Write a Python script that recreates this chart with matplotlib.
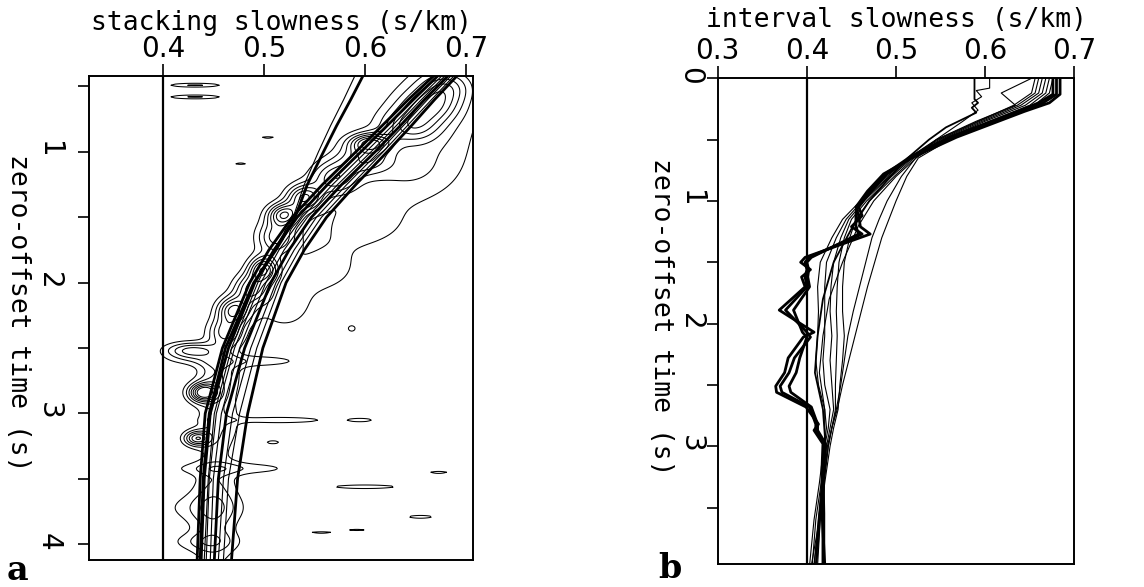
import numpy as np
import matplotlib
matplotlib.use("Agg")
import matplotlib.pyplot as plt

# ---- panel a: stacking slowness picks (s/km) vs zero-offset time (s) ----
t_stack = [0.42, 0.6, 0.8, 1.0, 1.25, 1.5, 1.75, 2.0, 2.5, 3.0, 3.5, 4.12]
stack_curves = {
    "c1": [0.668, 0.643, 0.617, 0.591, 0.558, 0.528, 0.505, 0.486, 0.459, 0.442, 0.437, 0.434],
    "c2": [0.672, 0.648, 0.622, 0.596, 0.563, 0.533, 0.510, 0.491, 0.465, 0.447, 0.441, 0.438],
    "c3": [0.676, 0.652, 0.627, 0.601, 0.568, 0.538, 0.515, 0.497, 0.471, 0.453, 0.446, 0.443],
    "c4": [0.679, 0.656, 0.631, 0.606, 0.573, 0.543, 0.520, 0.502, 0.476, 0.458, 0.450, 0.447],
    "c5": [0.682, 0.659, 0.635, 0.610, 0.577, 0.547, 0.525, 0.507, 0.481, 0.463, 0.455, 0.451],
    "c6": [0.685, 0.662, 0.638, 0.614, 0.582, 0.552, 0.530, 0.512, 0.487, 0.469, 0.460, 0.455],
    "c7": [0.688, 0.666, 0.642, 0.618, 0.587, 0.557, 0.535, 0.517, 0.493, 0.476, 0.465, 0.460],
    "c8": [0.691, 0.669, 0.646, 0.622, 0.591, 0.562, 0.540, 0.522, 0.499, 0.484, 0.474, 0.468],
    "d1": [0.598, 0.586, 0.572, 0.559, 0.543, 0.531, 0.512, 0.490, 0.462, 0.446, 0.440, 0.437],
    "d2": [0.590, 0.579, 0.566, 0.554, 0.540, 0.529, 0.510, 0.494, 0.468, 0.451, 0.445, 0.441],
}
thick_stack = {"c1", "c2", "c5", "c8", "d1"}

# semblance peaks: centre slowness, centre time, spread in s, spread in t, strength
blob_s = [0.680, 0.665, 0.645, 0.605, 0.600, 0.570, 0.540, 0.520, 0.512, 0.500,
          0.488, 0.470, 0.462, 0.455, 0.440, 0.434, 0.455, 0.452, 0.450,
          0.670, 0.640, 0.600, 0.560, 0.520,
          0.432, 0.432, 0.504, 0.477, 0.587, 0.428, 0.480, 0.515, 0.596, 0.509,
          0.470, 0.600, 0.673, 0.655, 0.440, 0.557, 0.592, 0.440]
blob_t = [0.50, 0.65, 0.80, 0.93, 1.05, 1.20, 1.35, 1.48, 1.65, 1.90,
          2.05, 2.21, 2.38, 2.70, 2.84, 3.19, 3.05, 3.55, 3.95,
          0.75, 1.15, 1.55, 1.90, 2.20,
          0.49, 0.58, 0.89, 1.09, 2.35, 2.52, 2.60, 3.05, 3.05, 3.22,
          3.42, 3.56, 3.45, 3.79, 3.72, 3.91, 3.89, 3.98]
blob_ws = [0.018, 0.020, 0.020, 0.014, 0.018, 0.016, 0.012, 0.011, 0.013, 0.010,
           0.012, 0.011, 0.012, 0.014, 0.010, 0.009, 0.015, 0.016, 0.016,
           0.035, 0.035, 0.035, 0.030, 0.025,
           0.020, 0.020, 0.007, 0.006, 0.004, 0.018, 0.045, 0.035, 0.012, 0.007,
           0.045, 0.030, 0.010, 0.014, 0.030, 0.012, 0.009, 0.025]
blob_wt = [0.09, 0.09, 0.09, 0.05, 0.09, 0.09, 0.07, 0.06, 0.09, 0.07,
           0.08, 0.07, 0.08, 0.12, 0.05, 0.04, 0.15, 0.20, 0.20,
           0.30, 0.18, 0.15, 0.15, 0.15,
           0.012, 0.012, 0.008, 0.008, 0.025, 0.045, 0.035, 0.018, 0.014, 0.014,
           0.035, 0.014, 0.010, 0.014, 0.08, 0.008, 0.007, 0.05]
blob_amp = [0.7, 0.8, 0.8, 1.1, 0.8, 0.9, 1.2, 1.3, 0.9, 1.3,
            1.0, 1.2, 0.9, 0.6, 1.5, 1.1, 0.45, 0.38, 0.38,
            0.35, 0.35, 0.30, 0.28, 0.28,
            0.45, 0.45, 0.30, 0.30, 0.30, 0.9, 0.35, 0.40, 0.30, 0.30,
            0.35, 0.35, 0.30, 0.30, 0.30, 0.30, 0.30, 0.30]
sem_levels = [0.22, 0.42, 0.62, 0.82, 1.02, 1.22, 1.42]

# ---- panel b: interval slowness (s/km) vs zero-offset time (s) ----
t_int = [0.0, 0.12, 0.22, 0.35, 0.5, 0.65, 0.8, 1.0, 1.15, 1.3, 1.5, 1.7,
         1.9, 2.1, 2.3, 2.5, 2.7, 2.85, 3.0, 3.3, 3.6, 3.97]
int_thin = [
    [0.676, 0.672, 0.655, 0.610, 0.560, 0.525, 0.512, 0.500, 0.492, 0.484, 0.476, 0.468,
     0.461, 0.454, 0.447, 0.440, 0.434, 0.428, 0.424, 0.419, 0.414, 0.405],
    [0.672, 0.668, 0.650, 0.605, 0.556, 0.522, 0.506, 0.490, 0.481, 0.473, 0.466, 0.459,
     0.452, 0.446, 0.442, 0.438, 0.433, 0.428, 0.424, 0.419, 0.414, 0.408],
    [0.668, 0.664, 0.645, 0.600, 0.553, 0.520, 0.498, 0.470, 0.455, 0.448, 0.442, 0.440,
     0.440, 0.442, 0.440, 0.437, 0.435, 0.430, 0.426, 0.420, 0.415, 0.411],
    [0.664, 0.660, 0.640, 0.597, 0.550, 0.518, 0.495, 0.467, 0.450, 0.442, 0.436, 0.434,
     0.433, 0.434, 0.433, 0.432, 0.432, 0.428, 0.423, 0.419, 0.415, 0.412],
    [0.660, 0.656, 0.636, 0.594, 0.548, 0.516, 0.493, 0.464, 0.447, 0.438, 0.430, 0.427,
     0.426, 0.428, 0.426, 0.428, 0.430, 0.426, 0.422, 0.418, 0.413, 0.410],
    [0.656, 0.652, 0.632, 0.592, 0.546, 0.515, 0.492, 0.462, 0.444, 0.433, 0.422, 0.420,
     0.420, 0.420, 0.418, 0.420, 0.426, 0.424, 0.420, 0.416, 0.410, 0.406],
    [0.652, 0.618, 0.634, 0.590, 0.545, 0.514, 0.490, 0.460, 0.440, 0.428, 0.415, 0.412,
     0.413, 0.412, 0.410, 0.413, 0.420, 0.422, 0.419, 0.414, 0.408, 0.403],
]

t_box1 = [0.0, 0.17, 0.2, 0.24, 0.28, 0.4, 0.5, 0.65, 0.8, 1.0, 1.2, 1.5, 1.8,
          2.1, 2.4, 2.7, 3.0, 3.5, 3.97]
s_box1 = [0.588, 0.588, 0.592, 0.585, 0.590, 0.556, 0.537, 0.513, 0.494, 0.470,
          0.452, 0.430, 0.418, 0.412, 0.409, 0.418, 0.421, 0.415, 0.410]
t_box2 = [0.0, 0.08, 0.1, 0.15, 0.2, 0.26, 0.35, 0.5, 0.6, 0.8, 1.0, 1.2, 1.5,
          1.8, 2.1, 2.4, 2.7, 3.0, 3.5, 3.97]
s_box2 = [0.605, 0.605, 0.590, 0.596, 0.585, 0.592, 0.575, 0.545, 0.530, 0.500,
          0.475, 0.458, 0.440, 0.425, 0.418, 0.414, 0.420, 0.420, 0.414, 0.408]

t_thick = [0.0, 0.13, 0.2, 0.27, 0.48, 0.64, 0.78, 0.92, 1.05, 1.12, 1.21, 1.27,
           1.46, 1.50, 1.56, 1.62, 1.70, 1.89, 2.07, 2.11, 2.28, 2.40, 2.51, 2.56,
           2.68, 2.82, 2.87, 2.98, 3.17, 3.55, 3.96]
int_thick = [
    [0.684, 0.684, 0.672, 0.644, 0.568, 0.520, 0.486, 0.468, 0.455, 0.458, 0.460, 0.471,
     0.398, 0.393, 0.404, 0.394, 0.398, 0.369, 0.408, 0.396, 0.379, 0.375, 0.365, 0.366,
     0.399, 0.413, 0.408, 0.418, 0.417, 0.417, 0.420],
    [0.680, 0.680, 0.665, 0.640, 0.563, 0.518, 0.490, 0.472, 0.458, 0.462, 0.450, 0.462,
     0.402, 0.398, 0.400, 0.398, 0.400, 0.376, 0.400, 0.404, 0.386, 0.380, 0.370, 0.372,
     0.403, 0.410, 0.410, 0.420, 0.418, 0.419, 0.419],
    [0.676, 0.676, 0.660, 0.636, 0.560, 0.516, 0.488, 0.470, 0.456, 0.455, 0.455, 0.458,
     0.405, 0.400, 0.402, 0.401, 0.403, 0.385, 0.395, 0.400, 0.392, 0.388, 0.380, 0.382,
     0.405, 0.412, 0.412, 0.421, 0.419, 0.418, 0.418],
]

plt.rcParams["font.family"] = ["DejaVu Sans"]
label_font = {"family": "DejaVu Sans Mono", "size": 19}

fig = plt.figure(figsize=(11.44, 5.87), dpi=100)
ax_a = fig.add_axes([0.0778, 0.046, 0.3357, 0.8245])
ax_b = fig.add_axes([0.6274, 0.0392, 0.3117, 0.8274])

# semblance field built from the peak list
s_grid = np.linspace(0.327, 0.707, 260)
t_grid = np.linspace(0.42, 4.12, 420)
S, T = np.meshgrid(s_grid, t_grid)
field = np.zeros_like(S)
for s0, t0, ws, wt, a in zip(blob_s, blob_t, blob_ws, blob_wt, blob_amp):
    field += a * np.exp(-0.5 * (((S - s0) / ws) ** 2 + ((T - t0) / wt) ** 2))
ax_a.contour(S, T, field, levels=sem_levels, colors="black", linewidths=0.75)

for name, vals in stack_curves.items():
    lw = 2.0 if name in thick_stack else 0.8
    ax_a.plot(vals, t_stack, color="black", lw=lw)
ax_a.axvline(0.4, color="black", lw=1.6)

ax_b.axvline(0.4, color="black", lw=1.6)
for vals in int_thin:
    ax_b.plot(vals, t_int, color="black", lw=0.8)
ax_b.plot(s_box1, t_box1, color="black", lw=1.3)
ax_b.plot(s_box2, t_box2, color="black", lw=0.8)
for vals in int_thick:
    ax_b.plot(vals, t_thick, color="black", lw=2.0)

ax_a.set_xlim(0.327, 0.707)
ax_a.set_ylim(4.12, 0.42)
ax_b.set_xlim(0.3, 0.7)
ax_b.set_ylim(3.96, 0.0)

ax_a.set_xticks([0.4, 0.5, 0.6, 0.7])
ax_b.set_xticks([0.3, 0.4, 0.5, 0.6, 0.7])
ax_a.set_yticks([1, 2, 3, 4])
ax_b.set_yticks([0, 1, 2, 3])

for ax, xlab, xl, yl, ypad in [(ax_a, "stacking slowness (s/km)", 1.11, -0.185, 11),
                               (ax_b, "interval slowness (s/km)", 1.12, -0.16, 1.5)]:
    ax.set_yticks([0.5, 1.5, 2.5, 3.5], minor=True)
    ax.xaxis.tick_top()
    ax.set_xticklabels([f"{v:.1f}" for v in ax.get_xticks()])
    ax.tick_params(axis="x", direction="out", length=9, width=1.2, pad=0.5, labelsize=20)
    ax.tick_params(axis="y", which="both", direction="out", length=8, width=1.2,
                   pad=ypad, labelsize=20, labelrotation=-90)
    for sp in ax.spines.values():
        sp.set_linewidth(1.4)
    ax.set_xlabel(xlab, fontdict=label_font)
    ax.xaxis.set_label_position("top")
    ax.xaxis.set_label_coords(0.5, xl)
    ax.xaxis.label.set_va("center")
    ax.set_ylabel("zero-offset time (s)", fontdict=label_font, rotation=-90)
    ax.yaxis.set_label_coords(yl, 0.51)
    ax.yaxis.label.set_va("center")

fig.text(0.006, 0.012, "a", fontsize=24, fontweight="bold", family="DejaVu Serif")
fig.text(0.575, 0.015, "b", fontsize=24, fontweight="bold", family="DejaVu Serif")

fig.savefig("out.png", dpi=100)
